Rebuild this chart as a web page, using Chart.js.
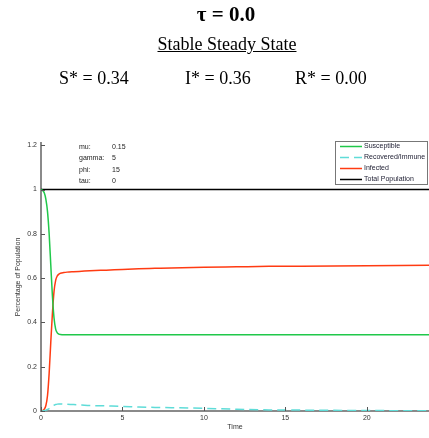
<!DOCTYPE html>
<html>
<head>
<meta charset="utf-8">
<script src="https://cdn.jsdelivr.net/npm/chart.js@4"></script>
<style>
    body { margin: 0; background: #fff; overflow: hidden; }
    #wrap { position: relative; width: 429px; height: 438px; }
    #myChart { position: absolute; left: 0; top: 0; }
    .head { position: absolute; font-family: "Liberation Serif", serif; color: #000; white-space: nowrap; }
    #tau { top: 2px; left: 0; width: 452px; text-align: center; font-size: 21px; font-weight: bold; }
    #state { top: 34px; left: 0; width: 454px; text-align: center; font-size: 18px; text-decoration: underline; }
    .star { top: 68px; font-size: 18px; }
</style>
</head>
<body>
<div id="wrap">
    <canvas id="myChart" width="429" height="438"></canvas>
    <div class="head" id="tau">τ = 0.0</div>
    <div class="head" id="state">Stable Steady State</div>
    <div class="head star" style="left: 59px;">S* = 0.34</div>
    <div class="head star" style="left: 185px;">I* = 0.36</div>
    <div class="head star" style="left: 295px;">R* = 0.00</div>
</div>
<script>
const time = [0, 0.1, 0.2, 0.3, 0.4, 0.5, 0.6, 0.7, 0.8, 0.9, 1.0, 1.1, 1.2, 1.4, 1.6, 2, 2.5, 3, 4, 5, 6, 7, 8, 10, 12, 14, 16, 18, 20, 22, 24];
const susceptible = [1.0, 0.996, 0.985, 0.955, 0.90, 0.80, 0.66, 0.52, 0.42, 0.37, 0.353, 0.347, 0.345, 0.344, 0.344, 0.344, 0.344, 0.344, 0.344, 0.344, 0.344, 0.344, 0.344, 0.344, 0.344, 0.344, 0.344, 0.344, 0.344, 0.344, 0.344];
const recovered = [0, 0.0005, 0.002, 0.004, 0.007, 0.011, 0.016, 0.021, 0.026, 0.029, 0.031, 0.032, 0.032, 0.031, 0.030, 0.029, 0.027, 0.025, 0.023, 0.021, 0.018, 0.016, 0.015, 0.012, 0.008, 0.005, 0.004, 0.003, 0.002, 0.0015, 0.001];
const infected = [0, 0.002, 0.008, 0.025, 0.07, 0.17, 0.31, 0.44, 0.54, 0.59, 0.61, 0.618, 0.622, 0.625, 0.627, 0.629, 0.631, 0.633, 0.636, 0.639, 0.642, 0.644, 0.646, 0.649, 0.651, 0.653, 0.654, 0.655, 0.656, 0.657, 0.658];
const total = [1, 1, 1, 1, 1, 1, 1, 1, 1, 1, 1, 1, 1, 1, 1, 1, 1, 1, 1, 1, 1, 1, 1, 1, 1, 1, 1, 1, 1, 1, 1];

const xTicks = [0, 5, 10, 15, 20];
const yTicks = [0, 0.2, 0.4, 0.6, 0.8, 1, 1.2];

const paramNames = ['mu:', 'gamma:', 'phi:', 'tau:'];
const paramValues = ['0.15', '5', '15', '0'];

const axisGray = '#8a8a8a';
const labelFont = { family: '"Liberation Sans", Arial, sans-serif', size: 7 };

function points(ys) {
    return time.map((t, i) => ({ x: t, y: ys[i] }));
}

// short tick marks pointing into the plot
const innerTicks = {
    id: 'innerTicks',
    afterDraw(chart) {
        const ctx = chart.ctx;
        const area = chart.chartArea;
        const xs = chart.scales.x;
        const ys = chart.scales.y;
        ctx.save();
        ctx.strokeStyle = '#555';
        ctx.lineWidth = 1;
        ctx.beginPath();
        xTicks.forEach(v => {
            const px = Math.round(xs.getPixelForValue(v)) + 0.5;
            ctx.moveTo(px, area.bottom);
            ctx.lineTo(px, area.bottom - 4);
        });
        yTicks.forEach(v => {
            const py = Math.round(ys.getPixelForValue(v)) + 0.5;
            ctx.moveTo(area.left, py);
            ctx.lineTo(area.left + 4, py);
        });
        ctx.stroke();
        ctx.restore();
    }
};

// parameter list in the upper left and legend box in the upper right
const annotations = {
    id: 'annotations',
    afterDraw(chart) {
        const ctx = chart.ctx;
        ctx.save();
        ctx.font = '7px "Liberation Sans", Arial, sans-serif';
        ctx.fillStyle = '#222';
        ctx.textBaseline = 'middle';
        paramNames.forEach((name, i) => {
            const y = 147 + i * 11.3;
            ctx.fillText(name, 79, y);
            ctx.fillText(paramValues[i], 112, y);
        });

        const box = { x: 335.5, y: 141.5, w: 92, h: 43 };
        ctx.fillStyle = '#fff';
        ctx.fillRect(box.x, box.y, box.w, box.h);
        ctx.strokeStyle = '#777';
        ctx.lineWidth = 1;
        ctx.strokeRect(box.x, box.y, box.w, box.h);

        ctx.font = '7px "Liberation Sans", Arial, sans-serif';
        chart.data.datasets.forEach((ds, i) => {
            const y = 146.5 + i * 11;
            ctx.strokeStyle = ds.borderColor;
            ctx.lineWidth = ds.borderWidth;
            ctx.setLineDash(ds.borderDash || []);
            ctx.beginPath();
            ctx.moveTo(340, y);
            ctx.lineTo(362, y);
            ctx.stroke();
            ctx.setLineDash([]);
            ctx.fillStyle = '#1c1c30';
            ctx.fillText(ds.label, 364, y);
        });
        ctx.restore();
    }
};

const ctx = document.getElementById('myChart').getContext('2d');

const myChart = new Chart(ctx, {
    type: 'line',
    data: {
        datasets: [{
            label: 'Susceptible',
            data: points(susceptible),
            borderColor: '#20c84a',
            borderWidth: 1.5
        }, {
            label: 'Recovered/Immune',
            data: points(recovered),
            borderColor: '#5fdcd8',
            borderWidth: 1.5,
            borderDash: [9, 5]
        }, {
            label: 'Infected',
            data: points(infected),
            borderColor: '#ff3b12',
            borderWidth: 1.5
        }, {
            label: 'Total Population',
            data: points(total),
            borderColor: '#000',
            borderWidth: 1.5
        }]
    },
    options: {
        responsive: false,
        animation: false,
        devicePixelRatio: 1,
        elements: {
            point: { radius: 0 },
            line: { tension: 0.3, cubicInterpolationMode: 'monotone' }
        },
        layout: {
            padding: { top: 143, right: 0, left: 0, bottom: 0 }
        },
        plugins: {
            legend: { display: false },
            tooltip: { enabled: false }
        },
        scales: {
            x: {
                type: 'linear',
                min: 0,
                max: 23.82,
                afterBuildTicks: scale => { scale.ticks = xTicks.map(v => ({ value: v })); },
                afterFit: scale => { scale.height = 27; },
                grid: { display: false, drawTicks: false },
                border: { display: true, color: axisGray, width: 2 },
                ticks: { color: '#333', font: labelFont, padding: 3, maxRotation: 0 },
                title: {
                    display: true,
                    text: 'Time',
                    color: '#333',
                    font: labelFont,
                    padding: { top: 0, bottom: 7 }
                }
            },
            y: {
                min: 0,
                max: 1.21,
                afterBuildTicks: scale => { scale.ticks = yTicks.map(v => ({ value: v })); },
                afterFit: scale => { scale.width = 41; },
                grid: { display: false, drawTicks: false },
                border: { display: true, color: axisGray, width: 2 },
                ticks: {
                    color: '#333',
                    font: labelFont,
                    padding: 4,
                    callback: v => String(Math.round(v * 10) / 10)
                },
                title: {
                    display: true,
                    text: 'Percentage of Population',
                    color: '#333',
                    font: labelFont,
                    padding: { top: 14, bottom: 0 }
                }
            }
        }
    },
    plugins: [innerTicks, annotations]
});
</script>
</body>
</html>
